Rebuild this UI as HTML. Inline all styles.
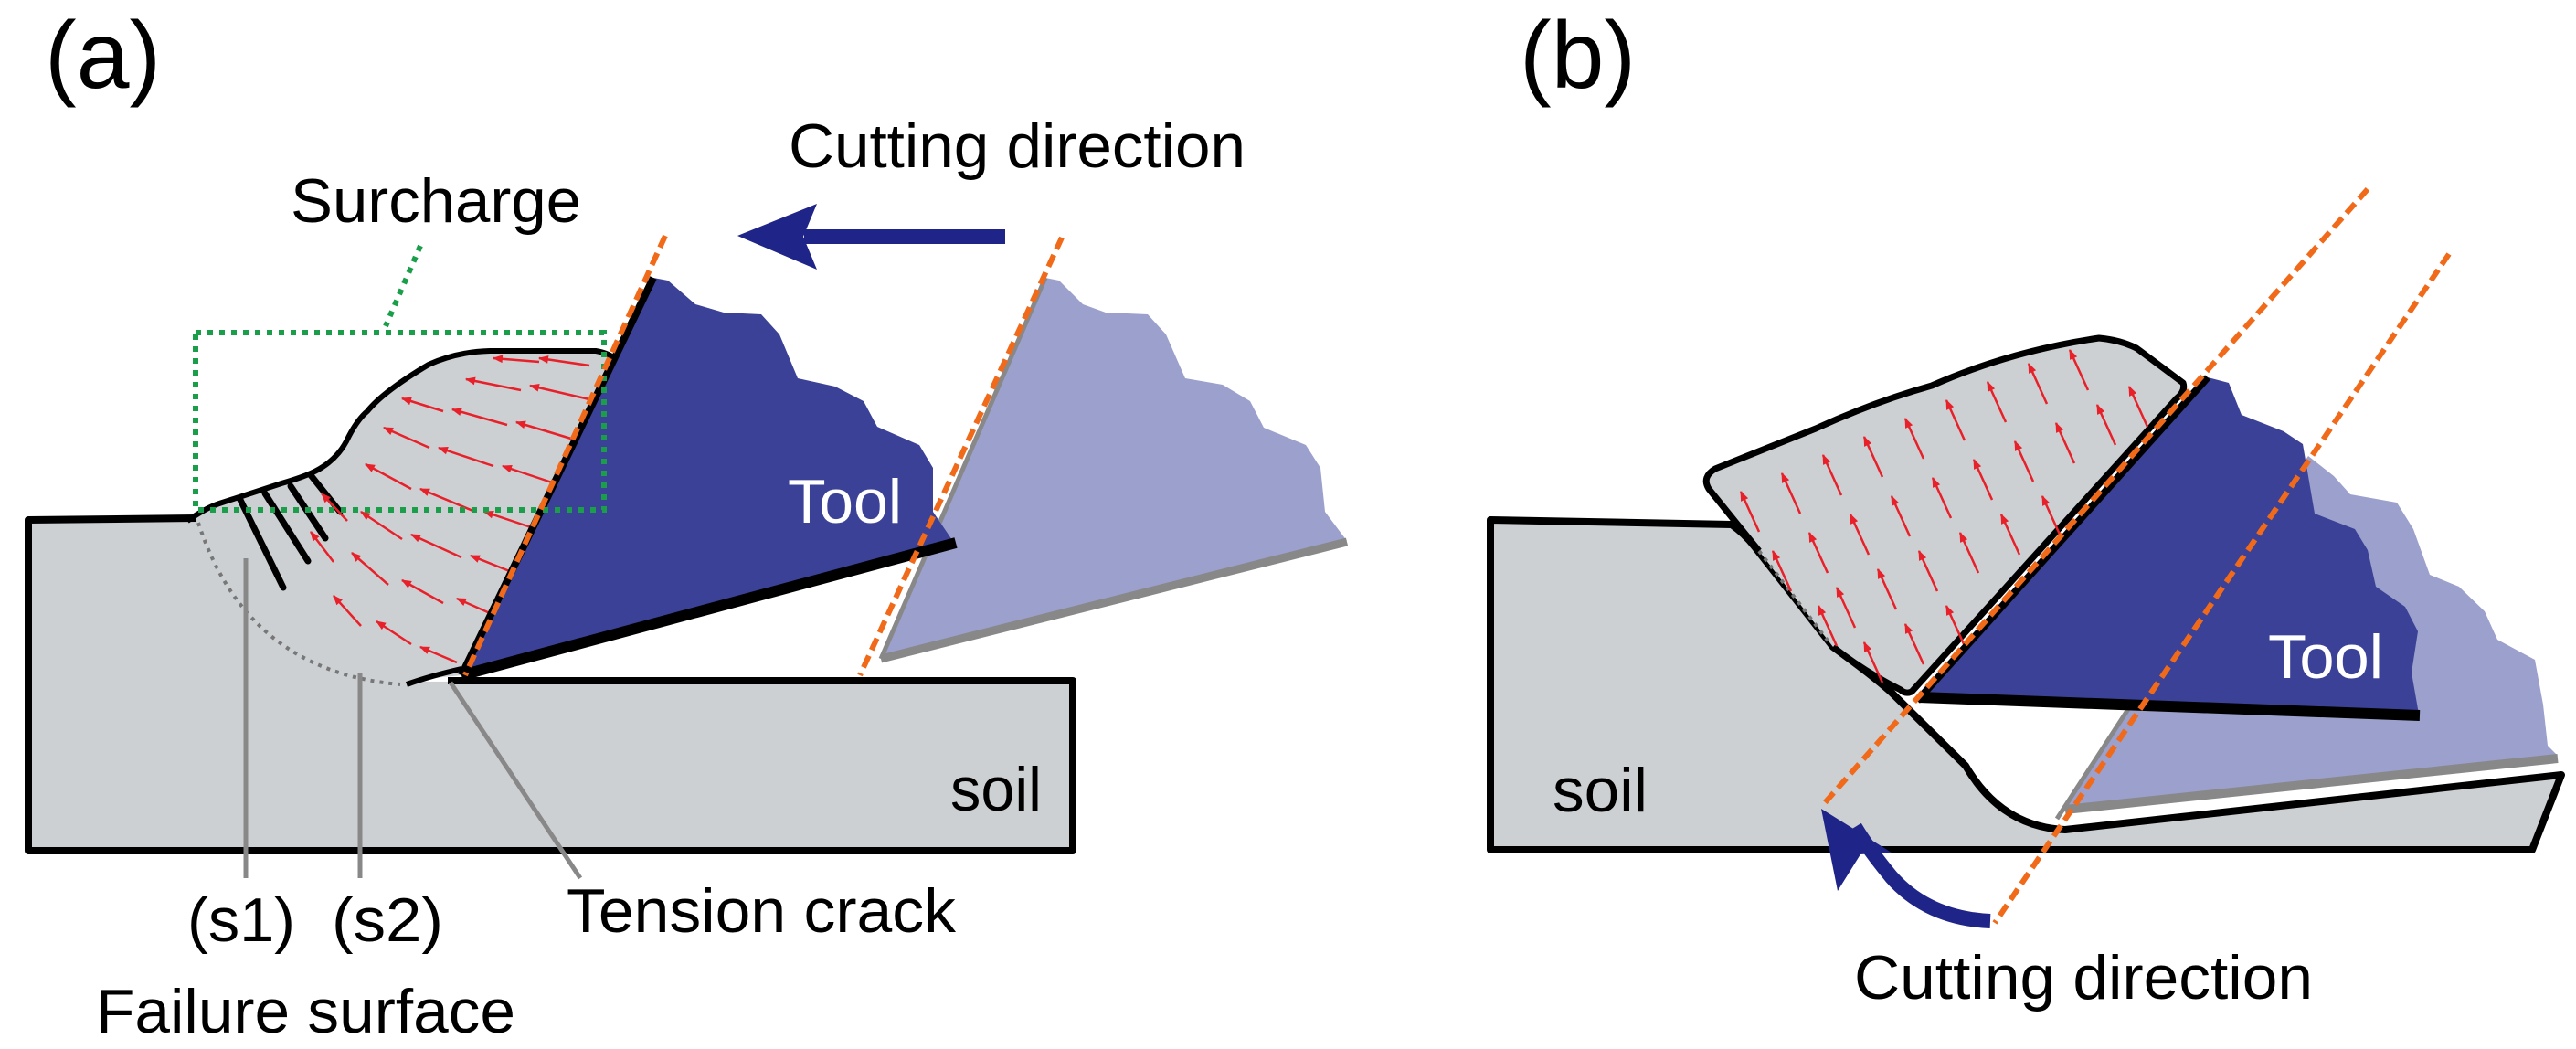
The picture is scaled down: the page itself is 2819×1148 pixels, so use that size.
<!DOCTYPE html>
<html><head><meta charset="utf-8"><style>
html,body{margin:0;padding:0;background:#fff;}
svg{display:block;}
text{font-family:"Liberation Sans",Arial,sans-serif;}
</style></head><body>
<svg width="2819" height="1148" viewBox="0 0 2819 1148" xmlns="http://www.w3.org/2000/svg">
<defs>
<marker id="ra" viewBox="0 0 10 10" refX="9" refY="5" markerWidth="14" markerHeight="11" orient="auto" markerUnits="userSpaceOnUse">
<path d="M0,1 L10,5 L0,9 z" fill="#e8202a"/>
</marker>
</defs>

<!-- ===== Panel A ===== -->
<text x="49" y="96" font-size="104">(a)</text>
<text x="863" y="183" font-size="68" textLength="500" lengthAdjust="spacingAndGlyphs">Cutting direction</text>
<path d="M1100,259 L880,259" stroke="#1f2488" stroke-width="16"/>
<path d="M807,258 L894,223 L879,259 L894,295 z" fill="#1f2488"/>
<text x="318" y="243" font-size="68" textLength="318" lengthAdjust="spacingAndGlyphs">Surcharge</text>

<!-- light tool -->
<path d="M1144,304 L1159,307 L1185,333 L1210,342 L1256,344 L1276,366 L1297,414 L1338,421 L1368,439 L1383,468 L1429,487 L1445,512 L1450,560 L1474,592 L964,721 z" fill="#9ba0cc"/>
<path d="M964,721 L1474,593" stroke="#888" stroke-width="9"/>
<path d="M1144,304 L964,721" stroke="#888" stroke-width="5"/>

<!-- soil -->
<path d="M31,569 L215,567 Q270,735 440,746 L1174,745 L1174,931 L31,931 z" fill="#ccd0d2"/>
<path d="M215,567 L31,569 L31,931 L1174,931 L1174,745 L490,745" fill="none" stroke="#000" stroke-width="8" stroke-linejoin="round"/>
<!-- heap -->
<path d="M210,569 Q225,556 240,551 L308,529 Q340,520 353,511 Q370,500 379,483 Q390,460 402,450 Q420,428 469,399 Q500,385 536,384 L652,384 Q665,386 672,392 L505,739 Q470,742 440,747 Q270,735 215,567 z" fill="#ccd0d2"/>
<path d="M205,570 Q225,556 240,551 L308,529 Q340,520 353,511 Q370,500 379,483 Q390,460 402,450 Q420,428 469,399 Q500,385 536,384 L652,384 Q665,386 672,392" fill="none" stroke="#000" stroke-width="6"/>
<path d="M505,732 Q470,740 445,749" fill="none" stroke="#000" stroke-width="6"/>
<path d="M217,572 Q270,735 438,749" fill="none" stroke="#777" stroke-width="4" stroke-dasharray="4 6"/>
<g stroke="#000" stroke-width="7" stroke-linecap="round">
<path d="M262,545 L310,643"/><path d="M290,540 L337,614"/><path d="M318,532 L356,589"/><path d="M340,520 L372,560"/>
</g>

<g stroke="#e8202a" stroke-width="2.5" fill="none" marker-end="url(#ra)">
<path d="M645,400 L590,392"/><path d="M590,396 L540,392"/>
<path d="M645,437 L580,422"/><path d="M570,427 L510,415"/>
<path d="M625,480 L565,462"/><path d="M555,465 L495,448"/><path d="M485,450 L440,436"/>
<path d="M610,530 L550,510"/><path d="M540,510 L480,490"/><path d="M470,490 L420,468"/>
<path d="M590,580 L530,560"/><path d="M520,560 L460,535"/><path d="M450,535 L400,508"/>
<path d="M570,630 L515,608"/><path d="M505,610 L450,585"/><path d="M440,590 L395,560"/><path d="M380,570 L352,540"/>
<path d="M545,675 L500,655"/><path d="M485,660 L440,635"/><path d="M425,640 L385,605"/><path d="M365,615 L340,582"/>
<path d="M500,725 L460,708"/><path d="M450,705 L412,680"/><path d="M395,685 L365,652"/>
</g>

<!-- dark tool -->
<path d="M715,304 L731,307 L761,333 L792,342 L833,344 L853,366 L873,414 L914,423 L945,439 L960,467 L1006,487 L1021,512 L1021,560 L1044,594 L505,739 z" fill="#3a4196"/>
<path d="M505,739 L1046,594" stroke="#000" stroke-width="12"/>
<path d="M715,304 L505,739" stroke="#000" stroke-width="8"/>
<!-- surcharge box -->
<g stroke="#1a9e4a" stroke-width="6" stroke-dasharray="6 7" fill="none">
<rect x="214" y="364" width="447" height="194"/>
<path d="M460,269 L422,357"/>
</g>
<g stroke="#f06a1a" stroke-width="6" stroke-dasharray="14 7">
<path d="M728,258 L509,739"/><path d="M1162,260 L941,739"/>
</g>
<text x="862" y="572" font-size="68" fill="#fff" textLength="125" lengthAdjust="spacingAndGlyphs">Tool</text>
<text x="1040" y="887" font-size="68" textLength="100" lengthAdjust="spacingAndGlyphs">soil</text>
<g stroke="#888" stroke-width="5">
<path d="M269,611 L269,961"/><path d="M394,737 L394,961"/><path d="M493,747 L635,961"/>
</g>
<text x="205" y="1030" font-size="68" textLength="118" lengthAdjust="spacingAndGlyphs">(s1)</text>
<text x="363" y="1030" font-size="68" textLength="122" lengthAdjust="spacingAndGlyphs">(s2)</text>
<text x="620" y="1020" font-size="68" textLength="426" lengthAdjust="spacingAndGlyphs">Tension crack</text>
<text x="105" y="1130" font-size="68" textLength="459" lengthAdjust="spacingAndGlyphs">Failure surface</text>

<!-- ===== Panel B ===== -->
<text x="1663" y="96" font-size="104">(b)</text>
<!-- soil -->
<path d="M1631,569 L1895,574 Q1910,585 1920,598 L2006,708 Q2050,740 2070,758 L2151,838 Q2190,905 2260,908 L2803,848 L2771,930 L1631,930 z" fill="#ccd0d2" stroke="#000" stroke-width="8" stroke-linejoin="round"/>
<!-- light tool -->
<path d="M2526,499 L2554,521 L2572,541 L2623,550 L2641,579 L2659,629 L2691,642 L2719,669 L2733,700 L2774,722 L2783,771 L2788,816 L2799,827 L2265,883 L2251,896 L2329,776 z" fill="#9ba0cc"/>
<path d="M2260,886 L2799,830" stroke="#888" stroke-width="10"/>
<path d="M2329,776 L2251,896" stroke="#888" stroke-width="5"/>
<!-- heap -->
<path d="M1877,513 L1987,469 Q2050,440 2114,422 Q2200,384 2297,370 Q2320,372 2338,381 L2389,419 Q2392,428 2382,436 L2092,757 Q2085,760 2080,755 L2006,708 L1925,603 L1870,535 Q1862,522 1877,513 z" fill="#ccd0d2"/>
<path d="M1925,603 L1870,535 Q1862,522 1877,513 L1987,469 Q2050,440 2114,422 Q2200,384 2297,370 Q2320,372 2338,381 L2389,419 Q2392,428 2382,436 L2092,757 Q2085,760 2080,755 Q2040,735 2006,708" fill="none" stroke="#000" stroke-width="7" stroke-linejoin="round"/>
<path d="M1925,603 L2004,706" stroke="#777" stroke-width="4" stroke-dasharray="4 6"/>
<g stroke="#e8202a" stroke-width="2.5" fill="none" marker-end="url(#ra)">
<path d="M1925,582 L1905,538"/><path d="M1970,562 L1950,518"/><path d="M2015,542 L1995,498"/><path d="M2060,522 L2040,478"/><path d="M2105,502 L2085,458"/><path d="M2150,482 L2130,438"/><path d="M2195,462 L2175,418"/><path d="M2240,442 L2220,398"/><path d="M2285,427 L2265,383"/>
<path d="M1960,647 L1940,603"/><path d="M2000,627 L1980,583"/><path d="M2045,607 L2025,563"/><path d="M2090,587 L2070,543"/><path d="M2135,567 L2115,523"/><path d="M2180,547 L2160,503"/><path d="M2225,527 L2205,483"/><path d="M2270,507 L2250,463"/><path d="M2315,487 L2295,443"/><path d="M2350,467 L2330,423"/>
<path d="M2010,707 L1990,663"/><path d="M2030,687 L2010,643"/><path d="M2075,667 L2055,623"/><path d="M2120,647 L2100,603"/><path d="M2165,627 L2145,583"/><path d="M2210,607 L2190,563"/><path d="M2255,587 L2235,543"/>
<path d="M2060,747 L2040,703"/><path d="M2105,727 L2085,683"/><path d="M2150,707 L2130,663"/>
</g>
<!-- dark tool -->
<path d="M2416,413 L2439,419 L2453,454 L2499,472 L2520,486 L2533,562 L2577,579 L2591,602 L2600,642 L2632,664 L2646,691 L2639,736 L2646,776 L2648,783 L2100,763 z" fill="#3a4196"/>
<path d="M2100,763 L2648,783" stroke="#000" stroke-width="12"/>
<path d="M2416,413 L2098,767" stroke="#000" stroke-width="8"/>
<g stroke="#f06a1a" stroke-width="6" stroke-dasharray="14 7">
<path d="M2591,207 L1993,883"/><path d="M2680,278 L2183,1010"/>
</g>
<path d="M2178,1008 Q2110,1005 2070,960 Q2045,930 2030,905" fill="none" stroke="#1f2488" stroke-width="16"/>
<path d="M1993,885 L2070,933 L2036,935 L2011,975 z" fill="#1f2488"/>
<text x="2482" y="742" font-size="68" fill="#fff" textLength="126" lengthAdjust="spacingAndGlyphs">Tool</text>
<text x="1699" y="888" font-size="68" textLength="104" lengthAdjust="spacingAndGlyphs">soil</text>
<text x="2029" y="1093" font-size="68" textLength="502" lengthAdjust="spacingAndGlyphs">Cutting direction</text>
</svg>
</body></html>
